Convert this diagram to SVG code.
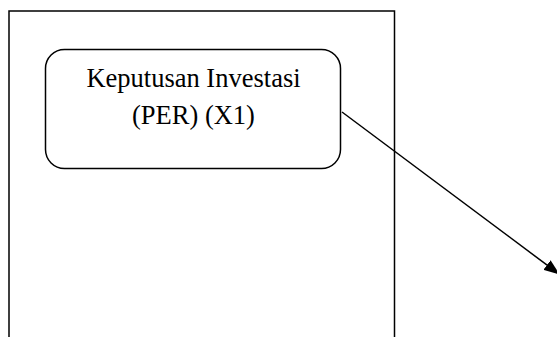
<svg xmlns="http://www.w3.org/2000/svg" width="557" height="337" viewBox="0 0 557 337">
<style>
.frame{fill:none;stroke:#000;stroke-width:1.5}
.node{fill:#fff;stroke:#000;stroke-width:1.5}
.lbl{font-family:"Liberation Serif","Times New Roman","DejaVu Serif",serif;font-size:26.5px;fill:#000;text-anchor:middle}
.conn{stroke:#000;stroke-width:1.5;fill:none}
</style>
<defs>
<marker id="ah" markerWidth="16" markerHeight="12" refX="15" refY="6" orient="auto" markerUnits="userSpaceOnUse">
<path d="M0,0 L16,6 L0,12 Z" fill="#000"/>
</marker>
</defs>
<rect width="557" height="337" fill="#fff"/>
<g id="frame">
<path class="frame" d="M9,340 V11 H394.5 V340"/>
</g>
<g id="node-x1">
<rect class="node" x="45.5" y="49.5" width="295" height="119" rx="19" ry="19"/>
<text class="lbl" x="193.5" y="87">Keputusan Investasi</text>
<text class="lbl" x="193.5" y="123.5">(PER) (X1)</text>
</g>
<g id="connectors">
<line class="conn" x1="342" y1="112" x2="559" y2="274" marker-end="url(#ah)"/>
</g>
</svg>
